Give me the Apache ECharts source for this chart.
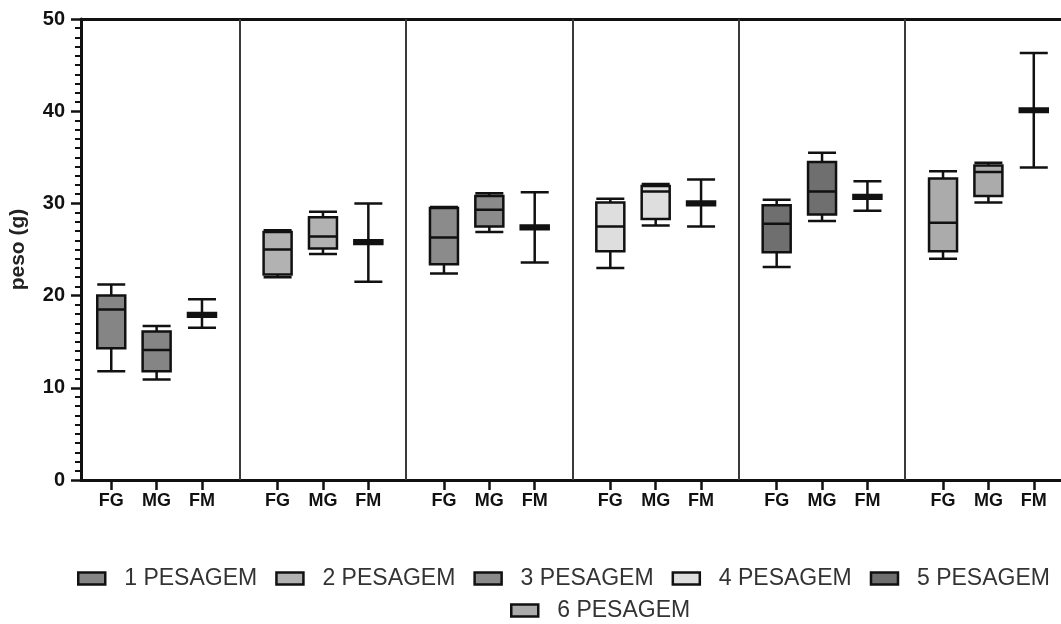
<!DOCTYPE html>
<html><head><meta charset="utf-8">
<script src="https://cdn.jsdelivr.net/npm/echarts@6/dist/echarts.min.js"></script>
<style>html,body{margin:0;padding:0;background:#fff}#c{width:1061px;height:624px}</style>
</head><body><div id="c"></div>
<script>
// ---- data ----
const categories = ['FG', 'MG', 'FM'];
const pesagens = ['1 PESAGEM', '2 PESAGEM', '3 PESAGEM', '4 PESAGEM', '5 PESAGEM', '6 PESAGEM'];
const yTickLabels = [0, 10, 20, 30, 40, 50];
// each row: [min, Q1, median, Q3, max] for FG, MG, FM
const pesagem1 = [[11.8, 14.3, 18.5, 20.0, 21.2], [10.9, 11.8, 14.1, 16.1, 16.7], [16.5, 17.7, 17.9, 18.1, 19.6]];
const pesagem2 = [[22.0, 22.3, 25.0, 26.9, 27.1], [24.5, 25.1, 26.4, 28.5, 29.1], [21.5, 25.6, 25.8, 26.0, 30.0]];
const pesagem3 = [[22.4, 23.4, 26.3, 29.5, 29.6], [26.9, 27.5, 29.3, 30.8, 31.1], [23.6, 27.2, 27.4, 27.6, 31.2]];
const pesagem4 = [[23.0, 24.8, 27.5, 30.1, 30.5], [27.6, 28.3, 31.3, 31.9, 32.1], [27.5, 29.8, 30.0, 30.2, 32.6]];
const pesagem5 = [[23.1, 24.7, 27.8, 29.8, 30.4], [28.1, 28.8, 31.3, 34.5, 35.5], [29.2, 30.5, 30.7, 30.9, 32.4]];
const pesagem6 = [[24.0, 24.8, 27.9, 32.7, 33.5], [30.1, 30.8, 33.4, 34.1, 34.4], [33.9, 39.9, 40.1, 40.3, 46.3]];
const allData = [pesagem1, pesagem2, pesagem3, pesagem4, pesagem5, pesagem6];

// ---- styles / layout ----
const fills = ['#858585', '#b2b2b2', '#8b8b8b', '#dedede', '#6f6f6f', '#ababab'];
const INK = '#111';
const FONT = '"Liberation Sans", Arial, sans-serif';
const PANEL = 11, FIRST = 2.5, STEP = 3;
const pos = (p, c) => PANEL * p + FIRST + STEP * c;
const tickPositions = [];
allData.forEach((_, p) => categories.forEach((_, c) => tickPositions.push(pos(p, c))));
const separators = [1, 2, 3, 4, 5].map(p => PANEL * p);
const labelOf = v => categories[Math.round(((v - FIRST) % PANEL) / STEP)];

const xAxes = allData.map((_, i) => {
  const base = { type: 'value', gridIndex: 0, min: 0.5, max: 65.3, splitLine: { show: false } };
  if (i === 0) {
    return Object.assign(base, {
      position: 'bottom',
      axisLine: { show: true, onZero: false, lineStyle: { color: INK, width: 3 } },
      axisTick: { show: true, customValues: tickPositions, length: 10, lineStyle: { color: INK, width: 2.5 } },
      axisLabel: { show: true, customValues: tickPositions, formatter: labelOf, margin: 12,
        fontFamily: FONT, fontWeight: 'bold', fontSize: 18, color: INK }
    });
  }
  if (i === 1) {
    return Object.assign(base, {
      position: 'top',
      axisLine: { show: true, onZero: false, lineStyle: { color: INK, width: 3 } },
      axisTick: { show: false }, axisLabel: { show: false }
    });
  }
  return Object.assign(base, { show: false });
});

const series = allData.map((rows, i) => {
  const s = {
    type: 'boxplot',
    name: pesagens[i],
    xAxisIndex: i,
    yAxisIndex: 0,
    boxWidth: [28, 28],
    itemStyle: { color: fills[i], borderColor: INK, borderWidth: 2.5 },
    emphasis: { disabled: true },
    data: rows.map((d, c) => [pos(i, c)].concat(d)),
    z: 3
  };
  if (i === 0) {
    s.markLine = {
      silent: true, symbol: ['none', 'none'], label: { show: false },
      lineStyle: { color: '#3a3a3a', width: 2, type: 'solid' },
      emphasis: { disabled: true },
      data: separators.map(x => ({ xAxis: x }))
    };
  }
  return s;
});

const legendItem = i => ({
  name: pesagens[i], icon: 'rect',
  itemStyle: { color: fills[i], borderColor: INK, borderWidth: 2.5 }
});
const legendBase = {
  orient: 'horizontal', itemWidth: 27, itemHeight: 12, itemGap: 18,
  selectedMode: false,
  textStyle: { fontFamily: FONT, fontSize: 23, color: '#333', padding: [0, 0, 0, 14] }
};

const option = {
  animation: false,
  backgroundColor: '#fff',
  grid: { left: 78, right: 0, top: 19, bottom: 144, containLabel: false },
  legend: [
    Object.assign({}, legendBase, { left: 72, top: 562, data: [0, 1, 2, 3, 4].map(legendItem) }),
    Object.assign({}, legendBase, { left: 505, top: 594, data: [5].map(legendItem) })
  ],
  xAxis: xAxes,
  yAxis: {
    type: 'value', min: yTickLabels[0], max: yTickLabels[yTickLabels.length - 1], interval: 10,
    name: 'peso (g)', nameLocation: 'middle', nameGap: 52,
    nameTextStyle: { fontFamily: FONT, fontWeight: 'bold', fontSize: 21, color: '#222' },
    axisLine: { show: true, lineStyle: { color: INK, width: 3 } },
    axisTick: { show: true, length: 10, lineStyle: { color: INK, width: 2.5 } },
    minorTick: { show: true, splitNumber: 10, length: 6, lineStyle: { color: INK, width: 2 } },
    splitLine: { show: false },
    axisLabel: { fontFamily: FONT, fontWeight: 'bold', fontSize: 20, color: INK, margin: 16 }
  },
  series: series
};

const chart = echarts.init(document.getElementById('c'), null, { renderer: 'canvas' });
chart.setOption(option);
</script>
</body></html>
